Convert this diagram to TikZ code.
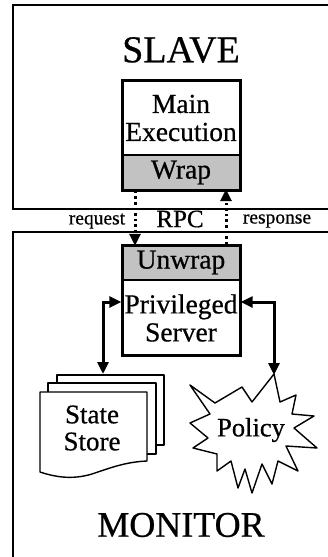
\documentclass[tikz,border=0pt]{standalone}
\usepackage{fontspec}
\setmainfont[FakeBold=0.6,AutoFakeBold=0.6]{Liberation Serif}
\usetikzlibrary{arrows.meta}

\begin{document}
\begin{tikzpicture}[x=1pt,y=-1pt,
  frame/.style={draw=black,line width=1.1pt},
  part/.style={draw=black,line width=1.4pt,minimum width=118pt,inner sep=0pt,
    align=center,font=\fontsize{27.5}{31}\selectfont},
  shaded/.style={part,fill=black!24},
  biglabel/.style={font=\fontsize{36}{40}\selectfont},
  smalllabel/.style={font=\fontsize{19.5}{22}\selectfont},
  tip/.style={-{Triangle[length=12pt,width=11pt]}},
  dotarrow/.style={line width=3pt,dash pattern=on 2.6pt off 3pt,tip},
  link/.style={line width=3pt,{Triangle[length=12pt,width=11pt]}-{Triangle[length=12pt,width=11pt]}},
  sheet/.style={draw=black,line width=1.4pt,fill=white,line join=round}
]
\path[use as bounding box,fill=white] (0,0) rectangle (328,557);

% the two address spaces, running off the right and bottom edges
\begin{scope}
  \clip (0,0) rectangle (328,557);
  \draw[frame] (13,5) rectangle (345,209);
  \draw[frame] (13,232) rectangle (345,575);
\end{scope}

\node[biglabel,font=\fontsize{38}{42}\selectfont] (slave) at (181,50) {SLAVE};
\node[biglabel] (monitor) at (181,525) {MONITOR};

% slave process
\node[part,minimum height=75pt] (main) at (181,118) {Main\\[-3pt]Execution};
\node[shaded,minimum height=35pt] (wrap) at (181,172.5) {Wrap};
\draw[line width=3pt] (122,80) rectangle (240,190);

% monitor server
\node[shaded,minimum height=35pt] (unwrap) at (181,262.5) {Unwrap};
\node[part,minimum height=75pt] (server) at (181,318) {Privileged\\[-3pt]Server};
\draw[line width=3pt] (122,245) rectangle (240,355);

% RPC channel
\node[smalllabel] (req) at (97,221) {request};
\node[font=\fontsize{25}{28}\selectfont] (rpc) at (180,219) {RPC};
\node[smalllabel] (resp) at (277,221) {response};
\draw[dotarrow] ([xshift=-46pt]wrap.south) -- ([xshift=-46pt,yshift=-1.5pt]unwrap.north);
\draw[dotarrow] ([xshift=45pt]unwrap.north) -- ([xshift=45pt,yshift=1.5pt]wrap.south);

% state store: stacked documents
\draw[sheet] (57,375) rectangle (164,445);
\draw[sheet] (48,383) rectangle (156,454);
\draw[sheet] (40,392) -- (147,392) -- (147,461)
  .. controls (125,462) and (110,468) .. (92,474)
  .. controls (72,480) and (55,477) .. (40,472) -- cycle;
\node[align=center,font=\fontsize{27}{30}\selectfont] (store) at (92,428) {State\\[-3pt]Store};
\coordinate (storetop) at (103,374);

% policy: burst shape
\draw[sheet] (190,385) -- (215,403) -- (242,387) -- (252,402) -- (274,374)
  -- (280,402) -- (296,395) -- (292,414) -- (314,416) -- (294,428)
  -- (317,448) -- (286,446) -- (298,471) -- (278,461) -- (272,484)
  -- (262,464) -- (252,493) -- (245,469) -- (238,488) -- (231,461)
  -- (217,471) -- (217,454) -- (193,448) -- (208,438) -- (190,423)
  -- (210,414) -- cycle;
\node[font=\fontsize{26.5}{30}\selectfont] (policy) at (251,430) {Policy};
\coordinate (policytop) at (274,375);

% server access to the store and the policy
\coordinate (lbend) at (103,302);
\coordinate (rbend) at (274,302);
\draw[link] ([yshift=16pt]server.west) -- (lbend) -- (storetop);
\draw[link] ([yshift=16pt]server.east) -- (rbend) -- (policytop);
\end{tikzpicture}
\end{document}
